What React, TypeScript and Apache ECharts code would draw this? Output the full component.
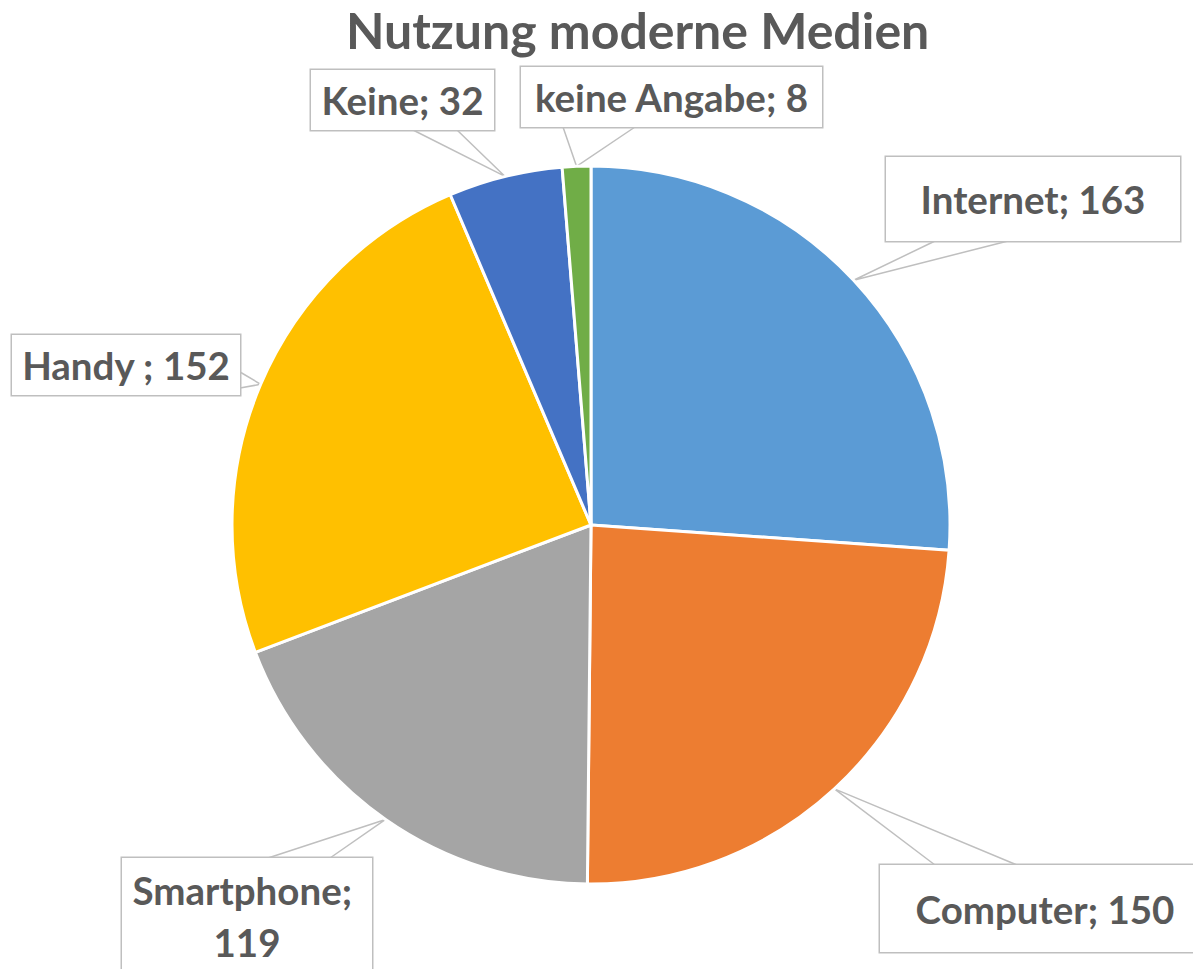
import React, { useEffect, useRef } from 'react';
import * as echarts from 'echarts';

const titleText = 'Nutzung moderne Medien';
const categories = ['Internet', 'Computer', 'Smartphone', 'Handy ', 'Keine', 'keine Angabe'];
const values = [163, 150, 119, 152, 32, 8];
const colors = ['#5B9BD5', '#ED7D31', '#A5A5A5', '#FFC000', '#4472C4', '#70AD47'];

// callout boxes (annotation layout): centre, size, wedge base along one edge
const callouts = [
  { cx: 1033, cy: 199, w: 294, h: 84, side: 'bottom', a: 935, b: 1008, lh: 44, lines: 1 },
  { cx: 1045, cy: 908.5, w: 330, h: 87, side: 'top', a: 935, b: 1017, lh: 44, lines: 1 },
  { cx: 247, cy: 916, w: 250, h: 116, side: 'top', a: 268, b: 330, lh: 52, lines: 2 },
  { cx: 126, cy: 365, w: 228, h: 60, side: 'right', a: 372, b: 388, lh: 44, lines: 1 },
  { cx: 402.5, cy: 100, w: 183, h: 60, side: 'bottom', a: 413, b: 457, lh: 44, lines: 1 },
  { cx: 671.5, cy: 97, w: 301, h: 60, side: 'bottom', a: 563, b: 635, lh: 44, lines: 1 },
];

const CENTER = [591, 525];
const RADIUS = 359;

export default function App() {
  const ref = useRef<HTMLDivElement>(null);
  useEffect(() => {
    if (!ref.current) return;
    const chart = echarts.init(ref.current, undefined, { renderer: 'svg' });
    const total = values.reduce((s, v) => s + v, 0);
    const data = categories.map((name, i) => {
      const c = callouts[i];
      const pad = (c.h - c.lines * c.lh) / 2;
      return {
        name,
        value: values[i],
        itemStyle: { color: colors[i] },
        label: {
          width: c.w,
          lineHeight: c.lh,
          padding: [pad, 0, pad, 0],
        },
      };
    });
    chart.setOption({
      animation: false,
      title: {
        text: titleText,
        left: 341,
        top: 0,
        textStyle: {
          fontFamily: 'Lato',
          fontWeight: 'bold',
          fontSize: 50,
          color: '#595959',
        },
      },
      series: [
        {
          type: 'pie',
          center: CENTER,
          radius: RADIUS,
          startAngle: 90,
          clockwise: true,
          avoidLabelOverlap: false,
          emphasis: { disabled: true },
          itemStyle: { borderColor: '#ffffff', borderWidth: 3 },
          label: {
            show: true,
            position: 'outside',
            formatter: '{b}; {c}',
            fontFamily: 'Lato',
            fontWeight: 'bold',
            fontSize: 38.5,
            color: '#595959',
            backgroundColor: '#ffffff',
            borderColor: '#bfbfbf',
            borderWidth: 1.5,
            overflow: 'break',
            align: 'center',
          },
          labelLine: {
            show: true,
            length: 10,
            length2: 10,
            lineStyle: { color: '#bfbfbf', width: 1.5 },
          },
          labelLayout: (p: any) => {
            const c = callouts[p.dataIndex];
            let anchor: number[];
            if (p.labelLinePoints && p.labelLinePoints[0]) {
              anchor = p.labelLinePoints[0];
            } else {
              let cum = 0;
              for (let k = 0; k < p.dataIndex; k++) cum += values[k];
              const mid = ((cum + values[p.dataIndex] / 2) / total) * Math.PI * 2;
              anchor = [CENTER[0] + RADIUS * Math.sin(mid), CENTER[1] - RADIUS * Math.cos(mid)];
            }
            const l = c.cx - c.w / 2;
            const r = c.cx + c.w / 2;
            const t = c.cy - c.h / 2;
            const bt = c.cy + c.h / 2;
            let A: number[];
            let B: number[];
            if (c.side === 'bottom') {
              A = [c.a, bt];
              B = [c.b, bt];
            } else if (c.side === 'top') {
              A = [c.a, t];
              B = [c.b, t];
            } else if (c.side === 'right') {
              A = [r, c.a];
              B = [r, c.b];
            } else {
              A = [l, c.a];
              B = [l, c.b];
            }
            return {
              x: c.cx,
              y: c.cy,
              align: 'center',
              verticalAlign: 'middle',
              labelLinePoints: [A, anchor, B],
            };
          },
          data,
        },
      ],
    });
    return () => chart.dispose();
  }, []);
  return (
    <div
      ref={ref}
      style={{ position: 'absolute', left: 0, top: 0, width: 1193, height: 969 }}
    />
  );
}
